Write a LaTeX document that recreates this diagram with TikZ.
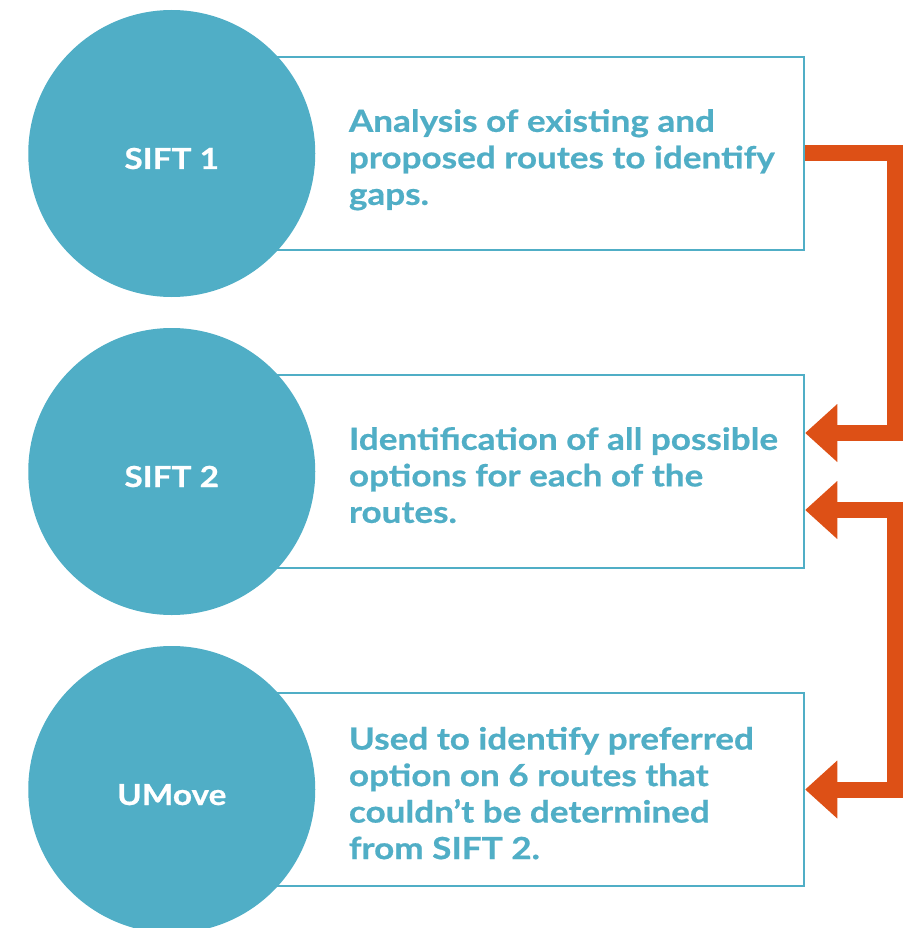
\documentclass[tikz,border=0pt]{standalone}
\usepackage{fontspec}
\setmainfont{Lato}[FakeStretch=1.15, BoldFeatures={FakeBold=0.6}]
\usepackage{tikz}
\usetikzlibrary{positioning}
\usetikzlibrary{arrows.meta}

\definecolor{siftTeal}{HTML}{50AEC6}
\definecolor{siftOrange}{HTML}{DD5016}

\begin{document}
\begin{tikzpicture} [x=1pt, y=-1pt, node distance = 122.5pt]
            % Set primary nodes
            \tikzset{
                stepBox/.style={
                        draw=siftTeal,
                        fill=white,
                        rectangle,
                        line width=2.5pt,
                        minimum height=193pt,
                        minimum width=631pt
                    }
            }
            \tikzset{
                stageNode/.style={
                        circle,
                        fill=siftTeal,
                        minimum size=287pt,
                        text=white,
                        font=\fontsize{29pt}{34pt}\selectfont\bfseries,
                        text height=31pt,
                        text depth=0pt
                    }
            }
            \tikzset{
                stepText/.style={
                        anchor=west,
                        align=left,
                        inner sep=0pt,
                        text=siftTeal,
                        text depth=0pt,
                        font=\fontsize{30.5pt}{36.5pt}\selectfont\bfseries
                    }
            }
            % Configure arrows
            \tikzset{
                flow/.style={
                        draw=siftOrange,
                        line width=16pt,
                        line join=miter
                    },
                flowTip/.tip={Triangle[length=32pt, width=58pt, line width=0pt]}
            }
            \useasboundingbox (0,0) rectangle (915,928);
            \clip (0,0) rectangle (915,928);
            % Placing nodes
            \node[stepBox] (box1) at (488.5,153.5) {};
            \node[stepBox, below = of box1] (box2) {};
            \node[stepBox, below = of box2] (box3) {};
            \node[stageNode] (sift1) at (box1.west) {SIFT 1};
            \node[stageNode] (sift2) at (box2.west) {SIFT 2};
            \node[stageNode] (umove) at (box3.west) {UMove};
            \node[stepText, yshift=-3.5pt] (text1) at ([xshift=177pt]box1.west) {Analysis of existing and\\proposed routes to identify\\gaps.};
            \node[stepText, yshift=-3.5pt] (text2) at ([xshift=177pt]box2.west) {Identification of all possible\\options for each of the\\routes.};
            \node[stepText, yshift=-3.5pt] (text3) at ([xshift=177pt]box3.west) {Used to identify preferred\\option on 6 routes that\\couldn’t be determined\\from SIFT 2.};
            % Draw arrows
            \coordinate (turn1) at ([xshift=90pt]box1.east);
            \coordinate (turn2) at ([xshift=90pt, yshift=-38.5pt]box2.east);
            \draw[flow, -flowTip] (box1.east) -- (turn1) |- ([yshift=38.5pt]box2.east);
            \draw[flow, flowTip-flowTip] ([yshift=-38.5pt]box2.east) -- (turn2) |- (box3.east);

        \end{tikzpicture}
\end{document}
